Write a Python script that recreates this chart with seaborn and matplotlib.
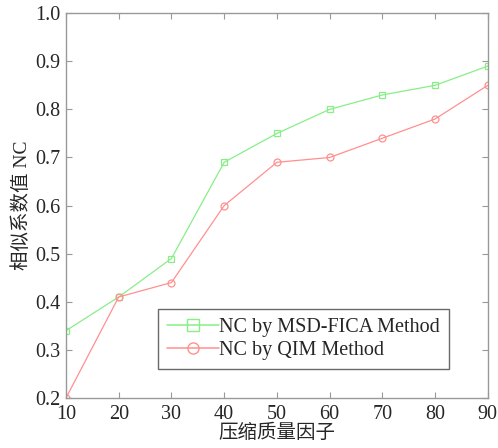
import matplotlib
matplotlib.use("Agg")
import matplotlib.pyplot as plt
import seaborn as sns
import pandas as pd

# compression quality factor
quality = [10, 20, 30, 40, 50, 60, 70, 80, 90]
nc_msd_fica = [0.34, 0.41, 0.49, 0.69, 0.75, 0.80, 0.83, 0.85, 0.89]
nc_qim = [0.20, 0.41, 0.44, 0.60, 0.69, 0.70, 0.74, 0.78, 0.85]
labels = ["NC by MSD-FICA Method", "NC by QIM Method"]


def make_plot():
    sns.set_style("ticks")
    plt.rcParams["font.family"] = ["Liberation Serif", "Noto Sans CJK SC"]

    df = pd.DataFrame({
        "quality": quality * 2,
        "nc": nc_msd_fica + nc_qim,
        "method": [labels[0]] * len(quality) + [labels[1]] * len(quality),
    })

    fig = plt.figure(figsize=(4.98, 4.48), dpi=100)
    ax = fig.add_axes([0.1325, 0.1116, 0.847, 0.859])

    sns.lineplot(data=df, x="quality", y="nc", hue="method", style="method",
                 markers=["s", "o"], dashes=False,
                 palette=["#88ee88", "#ff9090"], linewidth=0.9,
                 markersize=5, markerfacecolor="none", markeredgewidth=0.9,
                 ax=ax, legend=False)
    # seaborn ignores markeredgecolor per hue, so set it on each line
    for line in ax.lines:
        line.set_markeredgecolor(line.get_color())

    ax.set_xlim(10, 90)
    ax.set_ylim(0.2, 1.0)
    ax.set_xticks(quality)
    ax.set_yticks([0.2, 0.3, 0.4, 0.5, 0.6, 0.7, 0.8, 0.9, 1.0])
    ax.set_yticklabels([f"{v:.1f}" for v in ax.get_yticks()])
    ax.tick_params(direction="in", top=True, right=True, labelsize=14.5,
                   length=4, color="#999999")
    ax.tick_params(axis="x", pad=5)
    ax.tick_params(axis="y", pad=4)
    for s in ax.spines.values():
        s.set_color("#999999")
        s.set_linewidth(1.0)

    ax.set_xlabel("压缩质量因子", fontsize=14, labelpad=0)
    ax.set_ylabel("相似系数值 NC", fontsize=14, labelpad=3)

    handles = []
    for line, lab in zip(ax.lines, labels):
        h, = ax.plot([], [], color=line.get_color(), marker=line.get_marker(),
                     markersize=8, markerfacecolor="none",
                     markeredgecolor=line.get_color(), linewidth=1.1)
        handles.append(h)
    leg = ax.legend(handles, labels, loc="upper left",
                    bbox_to_anchor=(0.218, 0.231),
                    fontsize=14.5, frameon=True, fancybox=False,
                    edgecolor="#444444", handlelength=2.6, borderpad=0.45,
                    labelspacing=0.2, handletextpad=0.0, borderaxespad=0)
    leg.get_frame().set_linewidth(1.0)

    fig.savefig("out.png", dpi=100)
    plt.close(fig)


if __name__ == "__main__":
    make_plot()
